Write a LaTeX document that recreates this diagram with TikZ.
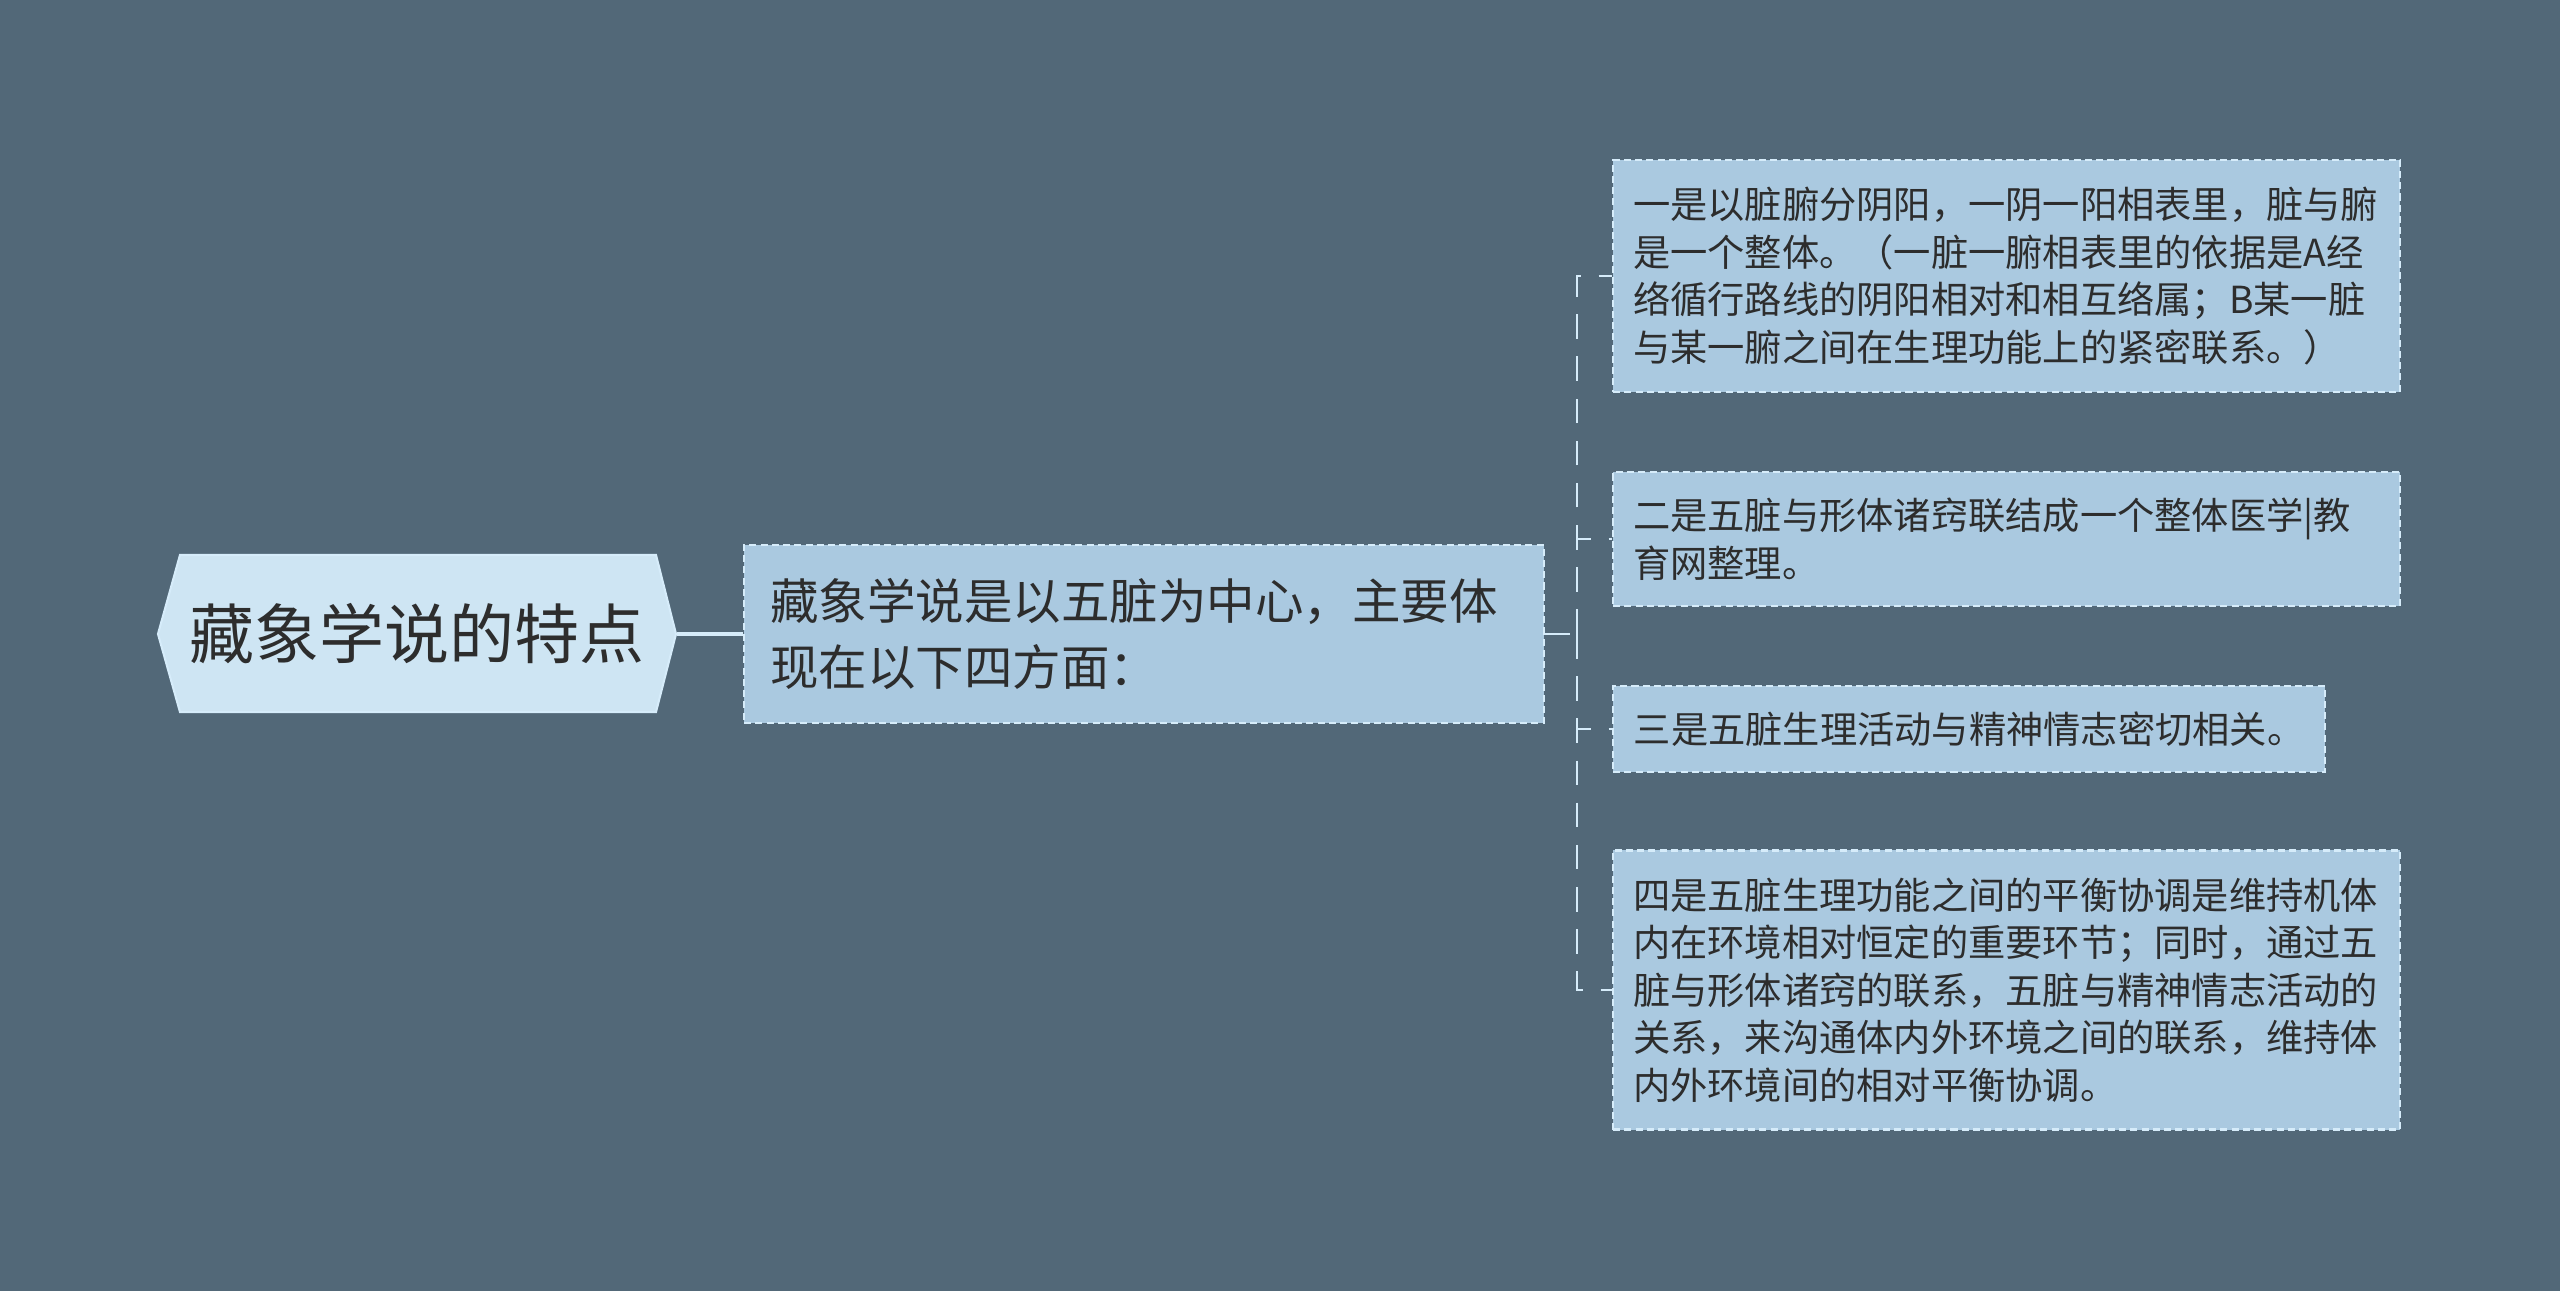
\documentclass[tikz,border=0pt]{standalone}
\usepackage{fontspec}
\newfontfamily\cjk{Noto Sans CJK SC}
\definecolor{bgslate}{RGB}{82,104,120}
\definecolor{rootfill}{RGB}{206,229,243}
\definecolor{boxfill}{RGB}{170,201,224}
\definecolor{edgelight}{RGB}{214,236,250}
\definecolor{inktext}{RGB}{45,45,45}

\begin{document}
\begin{tikzpicture}
		\fill[bgslate] (0,0) rectangle (25.6,-12.91);
		\useasboundingbox (0,0) rectangle (25.6,-12.91);

		\fill[rootfill,draw=edgelight,line width=0.6pt] (1.58,-6.34) -- (1.80,-5.55) -- (6.56,-5.55) -- (6.76,-6.34) -- (6.56,-7.12) -- (1.80,-7.12) -- cycle;
		\node (R) at (4.17,-6.34) [minimum width=5.18cm,minimum height=1.57cm,inner sep=0pt,text=inktext,font=\cjk\fontsize{18.5}{22}\selectfont] {藏象学说的特点};

\begin{scope}[every node/.style={anchor=west,fill=boxfill,draw=edgelight,line width=0.6pt,dash pattern=on 2pt off 1.2pt,align=left,text=inktext,inner xsep=0.2cm,inner ysep=0pt,font=\cjk\fontsize{10.6}{13.5}\selectfont}]
    \node (M) at (7.43,-6.34) [text width=7.48cm,inner xsep=0.26cm,minimum height=1.78cm,font=\cjk\fontsize{13.8}{18.5}\selectfont] {藏象学说是以五脏为中心，主要体\\现在以下四方面：};
    \node (A) at (16.12,-2.76) [text width=7.47cm,minimum height=2.32cm] {一是以脏腑分阴阳，一阴一阳相表里，脏与腑\\是一个整体。（一脏一腑相表里的依据是A经\\络循行路线的阴阳相对和相互络属；B某一脏\\与某一腑之间在生理功能上的紧密联系。）};
    \node (B) at (16.12,-5.39) [text width=7.47cm,minimum height=1.34cm] {二是五脏与形体诸窍联结成一个整体医学|教\\育网整理。};
    \node (C) at (16.12,-7.29) [minimum width=7.12cm,minimum height=0.86cm] {三是五脏生理活动与精神情志密切相关。};
    \node (D) at (16.12,-9.90) [text width=7.47cm,minimum height=2.79cm] {四是五脏生理功能之间的平衡协调是维持机体\\内在环境相对恒定的重要环节；同时，通过五\\脏与形体诸窍的联系，五脏与精神情志活动的\\关系，来沟通体内外环境之间的联系，维持体\\内外环境间的相对平衡协调。};
\end{scope}

    \coordinate (T) at (15.77,-6.34);

\begin{scope}[every edge/.style={draw=edgelight,line width=0.7pt,dash pattern=on 7pt off 5pt}]
    \path (R) edge[solid,line width=1pt] (M);
    \path (M) edge (T);
    \path (T) edge[to path={|- (\tikztotarget)}] (A);
    \path (T) edge[to path={|- (\tikztotarget)}] (B);
    \path (T) edge[to path={|- (\tikztotarget)}] (C);
    \path (T) edge[to path={|- (\tikztotarget)}] (D);
\end{scope}
	\end{tikzpicture}
\end{document}
